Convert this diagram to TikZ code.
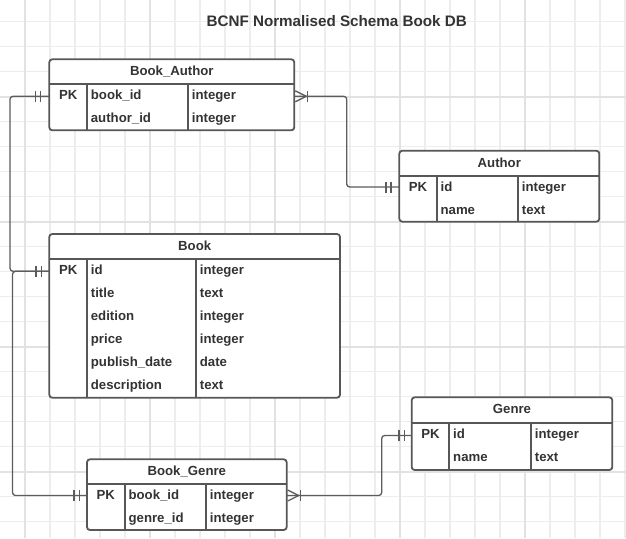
\documentclass[tikz,border=0pt]{standalone}
\usepackage{fontspec}
\setmainfont{Liberation Sans}
\usetikzlibrary{fit,calc}
\definecolor{gridminor}{HTML}{EDEDED}
\definecolor{gridmajor}{HTML}{E2E2E2}
\definecolor{framecol}{HTML}{575757}
\definecolor{conncol}{HTML}{5C5C5C}
\definecolor{txtcol}{HTML}{333333}
\tikzset{
  erbox/.style={draw=framecol, line width=1.8pt, fill=white, rounded corners=3pt, inner sep=0pt},
  erline/.style={draw=framecol, line width=1.8pt},
  conn/.style={draw=conncol, line width=1.3pt, rounded corners=3pt},
  cardmark/.style={draw=conncol, line width=1.3pt},
  txt/.style={inner sep=0pt, text=txtcol, font=\fontsize{13.2}{15}\selectfont\bfseries},
  ttl/.style={inner sep=0pt, text=txtcol, font=\fontsize{15.2}{18}\selectfont\bfseries},
}
% frame: name, x1, y1, x2, y2, header y, pk divider x, type divider x
\newcommand{\erframe}[8]{%
  \node[erbox, fit={(#2,#3) (#4,#5)}] (#1) {};
  \draw[erline] (#2,#6) -- (#4,#6);
  \draw[erline] (#7,#6) -- (#7,#5);
  \draw[erline] (#8,#6) -- (#8,#5);
}
% bar of a "one" mark at distance #2 left of coordinate #1
\newcommand{\onebar}[2]{\draw[cardmark] ([xshift=#2]#1) ++(0,-5.5) -- ++(0,11);}
% crow's foot opening on the right side of a box at coordinate #1
\newcommand{\crowright}[1]{%
  \draw[cardmark] ([shift={(1,-5.5)}]#1) -- ([shift={(12,0)}]#1) -- ([shift={(1,5.5)}]#1);
  \draw[cardmark] ([shift={(13.5,-5.5)}]#1) -- ([shift={(13.5,5.5)}]#1);
}
\begin{document}
\begin{tikzpicture}[x=1pt,y=-1pt]
\useasboundingbox (0,0) rectangle (626,538);
\fill[white] (0,0) rectangle (626,538);
% grid
\foreach \gx in {25,50,...,625} {\draw[gridminor, line width=1.3pt] (\gx,0) -- (\gx,538);}
\foreach \k in {0,...,20} {\pgfmathsetmacro\gy{21.7+25*\k}\draw[gridminor, line width=1.3pt] (0,\gy) -- (626,\gy);}
\foreach \gx in {25,150,275,400,525} {\draw[gridmajor, line width=1.8pt] (\gx,0) -- (\gx,538);}
\foreach \gy in {96.7,221.7,346.7,471.7} {\draw[gridmajor, line width=1.8pt] (0,\gy) -- (626,\gy);}

% title
\node[ttl, anchor=base] (title) at (336.7,26.5) {BCNF Normalised Schema Book DB};

% attachment points
\coordinate (ba-l) at (49.3,96.3);
\coordinate (ba-r) at (294.3,96.3);
\coordinate (bk-l) at (49.3,271.3);
\coordinate (au-l) at (399.3,187);
\coordinate (bg-l) at (87,495.5);
\coordinate (bg-r) at (286.7,495.5);
\coordinate (ge-l) at (411.7,435.5);

% connectors
\draw[conn] (ba-l) -- ++(-39.3,0) |- (bk-l);
\draw[conn] (bk-l) -- ++(-36.8,0) |- (bg-l);
\draw[conn] (ba-r) -- ++(52.4,0) |- (au-l);
\draw[conn] (bg-r) -- ++(95,0) |- (ge-l);

% cardinality marks
\onebar{ba-l}{-14pt}\onebar{ba-l}{-9pt}
\onebar{bk-l}{-13.3pt}\onebar{bk-l}{-7.8pt}
\onebar{au-l}{-13.3pt}\onebar{au-l}{-8.3pt}
\onebar{bg-l}{-13pt}\onebar{bg-l}{-7.7pt}
\onebar{ge-l}{-12.7pt}\onebar{ge-l}{-7.4pt}
\crowright{ba-r}
\crowright{bg-r}

% Book_Author
\erframe{ba}{49.3}{59.3}{294.3}{130.3}{84}{87}{188}
\node[txt, anchor=base] (ba-h) at (171.8,75.6) {Book\_Author};
\node[txt, anchor=base] (ba-pk) at (68.2,99.3) {PK};
\node[txt, anchor=base west] (ba-f1) at (90.7,99.3) {book\_id};
\node[txt, anchor=base west] (ba-t1) at (191.7,99.3) {integer};
\node[txt, anchor=base west] (ba-f2) at (90.7,122.3) {author\_id};
\node[txt, anchor=base west] (ba-t2) at (191.7,122.3) {integer};

% Author
\erframe{au}{399.3}{150.7}{599.3}{221.7}{175.7}{436.7}{518}
\node[txt, anchor=base] (au-h) at (499.3,167) {Author};
\node[txt, anchor=base] (au-pk) at (418,191) {PK};
\node[txt, anchor=base west] (au-f1) at (440.4,191) {id};
\node[txt, anchor=base west] (au-t1) at (521.7,191) {integer};
\node[txt, anchor=base west] (au-f2) at (440.4,214) {name};
\node[txt, anchor=base west] (au-t2) at (521.7,214) {text};

% Book
\erframe{bk}{49.3}{234}{340}{397.7}{259.3}{87}{196}
\node[txt, anchor=base] (bk-h) at (194.7,250.3) {Book};
\node[txt, anchor=base] (bk-pk) at (68.2,274.6) {PK};
\node[txt, anchor=base west] (bk-f1) at (90.7,274.6) {id};
\node[txt, anchor=base west] (bk-t1) at (199.7,274.6) {integer};
\node[txt, anchor=base west] (bk-f2) at (90.7,297.6) {title};
\node[txt, anchor=base west] (bk-t2) at (199.7,297.6) {text};
\node[txt, anchor=base west] (bk-f3) at (90.7,320.6) {edition};
\node[txt, anchor=base west] (bk-t3) at (199.7,320.6) {integer};
\node[txt, anchor=base west] (bk-f4) at (90.7,343.6) {price};
\node[txt, anchor=base west] (bk-t4) at (199.7,343.6) {integer};
\node[txt, anchor=base west] (bk-f5) at (90.7,366.6) {publish\_date};
\node[txt, anchor=base west] (bk-t5) at (199.7,366.6) {date};
\node[txt, anchor=base west] (bk-f6) at (90.7,389.6) {description};
\node[txt, anchor=base west] (bk-t6) at (199.7,389.6) {text};

% Genre
\erframe{ge}{411.7}{397.3}{612.3}{470}{423.3}{449.3}{531}
\node[txt, anchor=base] (ge-h) at (512,413.6) {Genre};
\node[txt, anchor=base] (ge-pk) at (430.5,438.6) {PK};
\node[txt, anchor=base west] (ge-f1) at (453,438.6) {id};
\node[txt, anchor=base west] (ge-t1) at (534.7,438.6) {integer};
\node[txt, anchor=base west] (ge-f2) at (453,461.6) {name};
\node[txt, anchor=base west] (ge-t2) at (534.7,461.6) {text};

% Book_Genre
\erframe{bg}{87}{459.3}{286.7}{530}{484}{124.7}{206}
\node[txt, anchor=base] (bg-h) at (186.8,475.6) {Book\_Genre};
\node[txt, anchor=base] (bg-pk) at (105.8,499.3) {PK};
\node[txt, anchor=base west] (bg-f1) at (128.4,499.3) {book\_id};
\node[txt, anchor=base west] (bg-t1) at (209.7,499.3) {integer};
\node[txt, anchor=base west] (bg-f2) at (128.4,522.3) {genre\_id};
\node[txt, anchor=base west] (bg-t2) at (209.7,522.3) {integer};
\end{tikzpicture}
\end{document}
